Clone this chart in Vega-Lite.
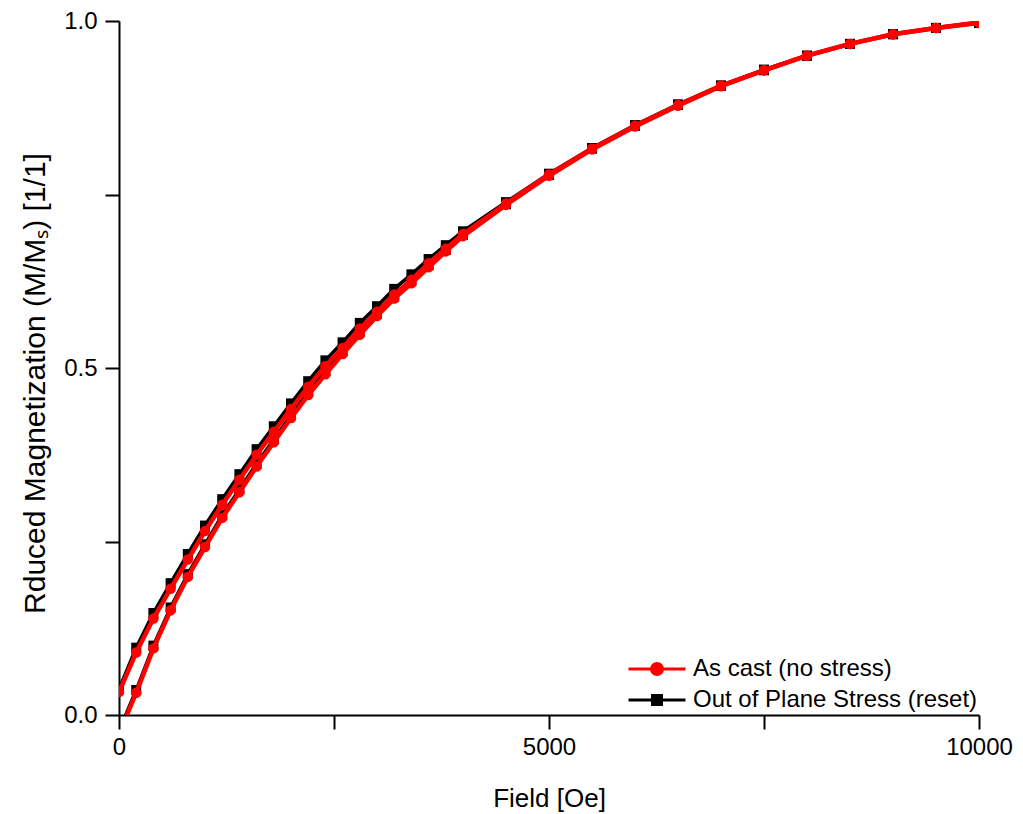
{
  "$schema": "https://vega.github.io/schema/vega-lite/v6.json",
  "autosize": "none",
  "width": 860,
  "height": 694,
  "padding": {"left": 119, "top": 21, "right": 44, "bottom": 99},
  "background": "white",
  "config": {
    "view": {"stroke": null},
    "font": "Liberation Sans",
    "axis": {
      "domainColor": "black",
      "domainWidth": 2,
      "tickColor": "black",
      "tickWidth": 2,
      "grid": false,
      "labelFont": "Liberation Sans",
      "labelFontSize": 24,
      "labelColor": "black",
      "titleFont": "Liberation Sans",
      "titleFontSize": 26,
      "titleFontWeight": "normal",
      "titleColor": "black"
    }
  },
  "datasets": {
    "pts": [
      {"series": "As cast (no stress)", "branch": "d", "field": 0, "m": -0.027},
      {"series": "As cast (no stress)", "branch": "d", "field": 200, "m": 0.032},
      {"series": "As cast (no stress)", "branch": "d", "field": 400, "m": 0.096},
      {"series": "As cast (no stress)", "branch": "d", "field": 600, "m": 0.151},
      {"series": "As cast (no stress)", "branch": "d", "field": 800, "m": 0.199},
      {"series": "As cast (no stress)", "branch": "d", "field": 1000, "m": 0.242},
      {"series": "As cast (no stress)", "branch": "d", "field": 1200, "m": 0.284},
      {"series": "As cast (no stress)", "branch": "d", "field": 1400, "m": 0.321},
      {"series": "As cast (no stress)", "branch": "d", "field": 1600, "m": 0.358},
      {"series": "As cast (no stress)", "branch": "d", "field": 1800, "m": 0.393},
      {"series": "As cast (no stress)", "branch": "d", "field": 2000, "m": 0.428},
      {"series": "As cast (no stress)", "branch": "d", "field": 2200, "m": 0.461},
      {"series": "As cast (no stress)", "branch": "d", "field": 2400, "m": 0.491},
      {"series": "As cast (no stress)", "branch": "d", "field": 2600, "m": 0.52},
      {"series": "As cast (no stress)", "branch": "d", "field": 2800, "m": 0.548},
      {"series": "As cast (no stress)", "branch": "d", "field": 3000, "m": 0.575},
      {"series": "As cast (no stress)", "branch": "d", "field": 3200, "m": 0.6},
      {"series": "As cast (no stress)", "branch": "d", "field": 3400, "m": 0.622},
      {"series": "As cast (no stress)", "branch": "d", "field": 3600, "m": 0.645},
      {"series": "As cast (no stress)", "branch": "d", "field": 3800, "m": 0.668},
      {"series": "As cast (no stress)", "branch": "d", "field": 4000, "m": 0.69},
      {"series": "As cast (no stress)", "branch": "d", "field": 4500, "m": 0.735},
      {"series": "As cast (no stress)", "branch": "d", "field": 5000, "m": 0.777},
      {"series": "As cast (no stress)", "branch": "d", "field": 5500, "m": 0.815},
      {"series": "As cast (no stress)", "branch": "d", "field": 6000, "m": 0.848},
      {"series": "As cast (no stress)", "branch": "d", "field": 6500, "m": 0.878},
      {"series": "As cast (no stress)", "branch": "d", "field": 7000, "m": 0.906},
      {"series": "As cast (no stress)", "branch": "d", "field": 7500, "m": 0.929},
      {"series": "As cast (no stress)", "branch": "d", "field": 8000, "m": 0.95},
      {"series": "As cast (no stress)", "branch": "d", "field": 8500, "m": 0.967},
      {"series": "As cast (no stress)", "branch": "d", "field": 9000, "m": 0.981},
      {"series": "As cast (no stress)", "branch": "d", "field": 9500, "m": 0.99},
      {"series": "As cast (no stress)", "branch": "d", "field": 10000, "m": 0.997},
      {"series": "As cast (no stress)", "branch": "u", "field": 0, "m": 0.033},
      {"series": "As cast (no stress)", "branch": "u", "field": 200, "m": 0.09},
      {"series": "As cast (no stress)", "branch": "u", "field": 400, "m": 0.139},
      {"series": "As cast (no stress)", "branch": "u", "field": 600, "m": 0.182},
      {"series": "As cast (no stress)", "branch": "u", "field": 800, "m": 0.224},
      {"series": "As cast (no stress)", "branch": "u", "field": 1000, "m": 0.265},
      {"series": "As cast (no stress)", "branch": "u", "field": 1200, "m": 0.303},
      {"series": "As cast (no stress)", "branch": "u", "field": 1400, "m": 0.339},
      {"series": "As cast (no stress)", "branch": "u", "field": 1600, "m": 0.375},
      {"series": "As cast (no stress)", "branch": "u", "field": 1800, "m": 0.408},
      {"series": "As cast (no stress)", "branch": "u", "field": 2000, "m": 0.441},
      {"series": "As cast (no stress)", "branch": "u", "field": 2200, "m": 0.473},
      {"series": "As cast (no stress)", "branch": "u", "field": 2400, "m": 0.503},
      {"series": "As cast (no stress)", "branch": "u", "field": 2600, "m": 0.529},
      {"series": "As cast (no stress)", "branch": "u", "field": 2800, "m": 0.557},
      {"series": "As cast (no stress)", "branch": "u", "field": 3000, "m": 0.581},
      {"series": "As cast (no stress)", "branch": "u", "field": 3200, "m": 0.606},
      {"series": "As cast (no stress)", "branch": "u", "field": 3400, "m": 0.627},
      {"series": "As cast (no stress)", "branch": "u", "field": 3600, "m": 0.651},
      {"series": "As cast (no stress)", "branch": "u", "field": 3800, "m": 0.672},
      {"series": "As cast (no stress)", "branch": "u", "field": 4000, "m": 0.693},
      {"series": "As cast (no stress)", "branch": "u", "field": 4500, "m": 0.737},
      {"series": "As cast (no stress)", "branch": "u", "field": 5000, "m": 0.779},
      {"series": "As cast (no stress)", "branch": "u", "field": 5500, "m": 0.816},
      {"series": "As cast (no stress)", "branch": "u", "field": 6000, "m": 0.849},
      {"series": "As cast (no stress)", "branch": "u", "field": 6500, "m": 0.879},
      {"series": "As cast (no stress)", "branch": "u", "field": 7000, "m": 0.907},
      {"series": "As cast (no stress)", "branch": "u", "field": 7500, "m": 0.929},
      {"series": "As cast (no stress)", "branch": "u", "field": 8000, "m": 0.95},
      {"series": "As cast (no stress)", "branch": "u", "field": 8500, "m": 0.967},
      {"series": "As cast (no stress)", "branch": "u", "field": 9000, "m": 0.981},
      {"series": "As cast (no stress)", "branch": "u", "field": 9500, "m": 0.99},
      {"series": "As cast (no stress)", "branch": "u", "field": 10000, "m": 0.998},
      {"series": "Out of Plane Stress (reset)", "branch": "d", "field": 0, "m": -0.023},
      {"series": "Out of Plane Stress (reset)", "branch": "d", "field": 200, "m": 0.036},
      {"series": "Out of Plane Stress (reset)", "branch": "d", "field": 400, "m": 0.1},
      {"series": "Out of Plane Stress (reset)", "branch": "d", "field": 600, "m": 0.155},
      {"series": "Out of Plane Stress (reset)", "branch": "d", "field": 800, "m": 0.203},
      {"series": "Out of Plane Stress (reset)", "branch": "d", "field": 1000, "m": 0.246},
      {"series": "Out of Plane Stress (reset)", "branch": "d", "field": 1200, "m": 0.288},
      {"series": "Out of Plane Stress (reset)", "branch": "d", "field": 1400, "m": 0.325},
      {"series": "Out of Plane Stress (reset)", "branch": "d", "field": 1600, "m": 0.362},
      {"series": "Out of Plane Stress (reset)", "branch": "d", "field": 1800, "m": 0.397},
      {"series": "Out of Plane Stress (reset)", "branch": "d", "field": 2000, "m": 0.432},
      {"series": "Out of Plane Stress (reset)", "branch": "d", "field": 2200, "m": 0.465},
      {"series": "Out of Plane Stress (reset)", "branch": "d", "field": 2400, "m": 0.495},
      {"series": "Out of Plane Stress (reset)", "branch": "d", "field": 2600, "m": 0.524},
      {"series": "Out of Plane Stress (reset)", "branch": "d", "field": 2800, "m": 0.552},
      {"series": "Out of Plane Stress (reset)", "branch": "d", "field": 3000, "m": 0.578},
      {"series": "Out of Plane Stress (reset)", "branch": "d", "field": 3200, "m": 0.603},
      {"series": "Out of Plane Stress (reset)", "branch": "d", "field": 3400, "m": 0.625},
      {"series": "Out of Plane Stress (reset)", "branch": "d", "field": 3600, "m": 0.648},
      {"series": "Out of Plane Stress (reset)", "branch": "d", "field": 3800, "m": 0.67},
      {"series": "Out of Plane Stress (reset)", "branch": "d", "field": 4000, "m": 0.692},
      {"series": "Out of Plane Stress (reset)", "branch": "d", "field": 4500, "m": 0.736},
      {"series": "Out of Plane Stress (reset)", "branch": "d", "field": 5000, "m": 0.778},
      {"series": "Out of Plane Stress (reset)", "branch": "d", "field": 5500, "m": 0.816},
      {"series": "Out of Plane Stress (reset)", "branch": "d", "field": 6000, "m": 0.849},
      {"series": "Out of Plane Stress (reset)", "branch": "d", "field": 6500, "m": 0.879},
      {"series": "Out of Plane Stress (reset)", "branch": "d", "field": 7000, "m": 0.907},
      {"series": "Out of Plane Stress (reset)", "branch": "d", "field": 7500, "m": 0.929},
      {"series": "Out of Plane Stress (reset)", "branch": "d", "field": 8000, "m": 0.95},
      {"series": "Out of Plane Stress (reset)", "branch": "d", "field": 8500, "m": 0.967},
      {"series": "Out of Plane Stress (reset)", "branch": "d", "field": 9000, "m": 0.981},
      {"series": "Out of Plane Stress (reset)", "branch": "d", "field": 9500, "m": 0.99},
      {"series": "Out of Plane Stress (reset)", "branch": "d", "field": 10000, "m": 0.997},
      {"series": "Out of Plane Stress (reset)", "branch": "u", "field": 0, "m": 0.037},
      {"series": "Out of Plane Stress (reset)", "branch": "u", "field": 200, "m": 0.097},
      {"series": "Out of Plane Stress (reset)", "branch": "u", "field": 400, "m": 0.147},
      {"series": "Out of Plane Stress (reset)", "branch": "u", "field": 600, "m": 0.19},
      {"series": "Out of Plane Stress (reset)", "branch": "u", "field": 800, "m": 0.232},
      {"series": "Out of Plane Stress (reset)", "branch": "u", "field": 1000, "m": 0.273},
      {"series": "Out of Plane Stress (reset)", "branch": "u", "field": 1200, "m": 0.311},
      {"series": "Out of Plane Stress (reset)", "branch": "u", "field": 1400, "m": 0.347},
      {"series": "Out of Plane Stress (reset)", "branch": "u", "field": 1600, "m": 0.383},
      {"series": "Out of Plane Stress (reset)", "branch": "u", "field": 1800, "m": 0.416},
      {"series": "Out of Plane Stress (reset)", "branch": "u", "field": 2000, "m": 0.449},
      {"series": "Out of Plane Stress (reset)", "branch": "u", "field": 2200, "m": 0.481},
      {"series": "Out of Plane Stress (reset)", "branch": "u", "field": 2400, "m": 0.511},
      {"series": "Out of Plane Stress (reset)", "branch": "u", "field": 2600, "m": 0.537},
      {"series": "Out of Plane Stress (reset)", "branch": "u", "field": 2800, "m": 0.565},
      {"series": "Out of Plane Stress (reset)", "branch": "u", "field": 3000, "m": 0.589},
      {"series": "Out of Plane Stress (reset)", "branch": "u", "field": 3200, "m": 0.614},
      {"series": "Out of Plane Stress (reset)", "branch": "u", "field": 3400, "m": 0.635},
      {"series": "Out of Plane Stress (reset)", "branch": "u", "field": 3600, "m": 0.657},
      {"series": "Out of Plane Stress (reset)", "branch": "u", "field": 3800, "m": 0.677},
      {"series": "Out of Plane Stress (reset)", "branch": "u", "field": 4000, "m": 0.697},
      {"series": "Out of Plane Stress (reset)", "branch": "u", "field": 4500, "m": 0.739},
      {"series": "Out of Plane Stress (reset)", "branch": "u", "field": 5000, "m": 0.78},
      {"series": "Out of Plane Stress (reset)", "branch": "u", "field": 5500, "m": 0.817},
      {"series": "Out of Plane Stress (reset)", "branch": "u", "field": 6000, "m": 0.85},
      {"series": "Out of Plane Stress (reset)", "branch": "u", "field": 6500, "m": 0.88},
      {"series": "Out of Plane Stress (reset)", "branch": "u", "field": 7000, "m": 0.907},
      {"series": "Out of Plane Stress (reset)", "branch": "u", "field": 7500, "m": 0.93},
      {"series": "Out of Plane Stress (reset)", "branch": "u", "field": 8000, "m": 0.95},
      {"series": "Out of Plane Stress (reset)", "branch": "u", "field": 8500, "m": 0.967},
      {"series": "Out of Plane Stress (reset)", "branch": "u", "field": 9000, "m": 0.981},
      {"series": "Out of Plane Stress (reset)", "branch": "u", "field": 9500, "m": 0.99},
      {"series": "Out of Plane Stress (reset)", "branch": "u", "field": 10000, "m": 0.998}
    ]
  },
  "data": {"name": "pts"},
  "encoding": {
    "x": {
      "field": "field",
      "type": "quantitative",
      "scale": {"domain": [0, 10000], "nice": false, "zero": false},
      "axis": {
        "title": "Field [Oe]",
        "values": [0, 2500, 5000, 7500, 10000],
        "tickSize": 14,
        "labelPadding": 6,
        "labelExpr": "datum.value % 5000 === 0 ? format(datum.value, 'd') : ''",
        "labelFlush": false,
        "labelOverlap": false,
        "titleX": 430,
        "titleY": 83,
        "titleBaseline": "middle",
        "encode": {
          "ticks": {"update": {"y2": {"signal": "datum.value % 5000 === 0 ? 14 : 7"}}}
        }
      }
    },
    "y": {
      "field": "m",
      "type": "quantitative",
      "scale": {"domain": [0, 1], "nice": false, "zero": false},
      "axis": {
        "title": "Rduced Magnetization (M/Mₛ) [1/1]",
        "values": [0, 0.25, 0.5, 0.75, 1],
        "tickSize": 14,
        "labelPadding": 8,
        "labelExpr": "(datum.value * 2) % 1 === 0 ? format(datum.value, '.1f') : ''",
        "labelFlush": false,
        "labelOverlap": false,
        "titleFontSize": 30,
        "titleX": -84,
        "titleY": 362,
        "titleAngle": -90,
        "titleAlign": "center",
        "titleBaseline": "middle",
        "encode": {
          "ticks": {"update": {"x2": {"signal": "(datum.value * 2) % 1 === 0 ? -14 : -7"}}}
        }
      }
    },
    "color": {
      "field": "series",
      "type": "nominal",
      "scale": {
        "domain": ["As cast (no stress)", "Out of Plane Stress (reset)"],
        "range": ["#ff0000", "#000000"]
      },
      "legend": {
        "title": null,
        "orient": "none",
        "legendX": 526,
        "legendY": 636,
        "padding": 0,
        "symbolSize": 100,
        "symbolStrokeWidth": 3,
        "labelOffset": 24,
        "labelFont": "Liberation Sans",
        "labelFontSize": 24,
        "labelColor": "black",
        "labelLimit": 400,
        "rowPadding": 7,
        "encode": {
          "symbols": {
            "update": {
              "shape": {"signal": "datum.value === 'As cast (no stress)' ? 'M-5.7,0H-1.1M1.1,0H5.7M-1.1,0A1.1,1.1 0 1,0 1.1,0A1.1,1.1 0 1,0 -1.1,0Z' : 'M-5.7,0H-0.9M0.9,0H5.7M-0.9,-0.9H0.9V0.9H-0.9Z'"},
              "size": {"value": 100},
              "fill": {"signal": "datum.value === 'As cast (no stress)' ? '#ff0000' : '#000000'"},
              "stroke": {"signal": "datum.value === 'As cast (no stress)' ? '#ff0000' : '#000000'"},
              "strokeWidth": {"value": 3},
              "opacity": {"value": 1}
            }
          }
        }
      }
    },
    "detail": {"field": "branch", "type": "nominal"}
  },
  "layer": [
    {
      "transform": [{"filter": "datum.series === 'Out of Plane Stress (reset)'"}],
      "mark": {"type": "line", "strokeWidth": 3.5, "clip": true}
    },
    {
      "transform": [{"filter": "datum.series === 'Out of Plane Stress (reset)'"}],
      "mark": {"type": "point", "shape": "square", "filled": true, "size": 100, "opacity": 1, "clip": true}
    },
    {
      "transform": [{"filter": "datum.series === 'As cast (no stress)'"}],
      "mark": {"type": "line", "strokeWidth": 4.5, "clip": true}
    },
    {
      "transform": [{"filter": "datum.series === 'As cast (no stress)'"}],
      "mark": {"type": "point", "shape": "circle", "filled": true, "size": 110, "opacity": 1, "clip": true}
    }
  ]
}
